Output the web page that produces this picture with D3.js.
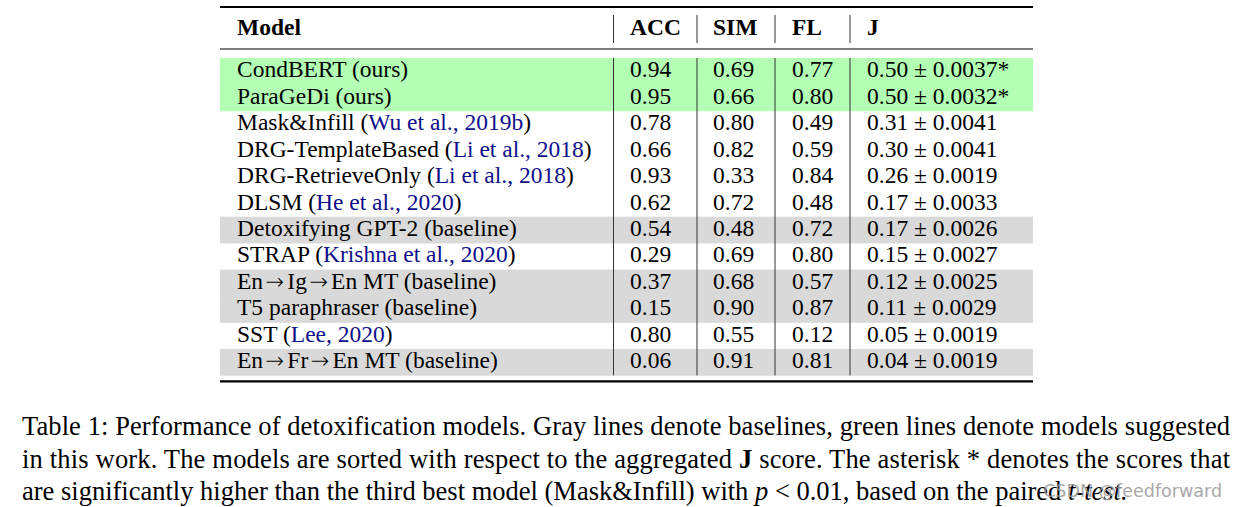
<!DOCTYPE html>
<html><head><meta charset="utf-8">
<script src="https://cdn.jsdelivr.net/npm/d3@7"></script>
<style>html,body{margin:0;padding:0;background:#fff;}svg{display:block;}</style>
</head><body>
<svg id="c" width="1236" height="507"></svg>
<script>
const columns = ["Model", "ACC", "SIM", "FL", "J"];
const models = ["CondBERT", "ParaGeDi", "Mask&Infill", "DRG-TemplateBased", "DRG-RetrieveOnly", "DLSM",
  "Detoxifying GPT-2", "STRAP", "En\u2192Ig\u2192En MT", "T5 paraphraser", "SST", "En\u2192Fr\u2192En MT"];
const suffix = ["(ours)", "(ours)", "", "", "", "", "(baseline)", "", "(baseline)", "(baseline)", "", "(baseline)"];
const cites = ["", "", "Wu et al., 2019b", "Li et al., 2018", "Li et al., 2018", "He et al., 2020",
  "", "Krishna et al., 2020", "", "", "Lee, 2020", ""];
const groups = ["ours", "ours", "", "", "", "", "base", "", "base", "base", "", "base"];
const acc = [0.94, 0.95, 0.78, 0.66, 0.93, 0.62, 0.54, 0.29, 0.37, 0.15, 0.80, 0.06];
const sim = [0.69, 0.66, 0.80, 0.82, 0.33, 0.72, 0.48, 0.69, 0.68, 0.90, 0.55, 0.91];
const fl  = [0.77, 0.80, 0.49, 0.59, 0.84, 0.48, 0.72, 0.80, 0.57, 0.87, 0.12, 0.81];
const jScore = [0.50, 0.50, 0.31, 0.30, 0.26, 0.17, 0.17, 0.15, 0.12, 0.11, 0.05, 0.04];
const jErr = ["0.0037", "0.0032", "0.0041", "0.0041", "0.0019", "0.0033", "0.0026", "0.0027", "0.0025", "0.0029", "0.0019", "0.0019"];
const stars = [true, true, false, false, false, false, false, false, false, false, false, false];

const svg = d3.select("#c");
const serif = "'Liberation Serif','Times New Roman',serif";
const arrowFont = "'DejaVu Sans',sans-serif";
const fs = 23.5;
const tableLeft = 220, tableRight = 1033;

const y = d3.scaleBand().domain(d3.range(models.length)).range([58, 58 + 26.45 * models.length]).paddingInner(0);
const xText = d3.scaleOrdinal().domain(columns).range([237, 630, 713, 792, 867]);
const sepX = [613.5, 697, 775, 850];
const fill = d3.scaleOrdinal().domain(["ours", "base", ""]).range(["#b3ffb3", "#d9d9d9", "none"]);

// row backgrounds
svg.append("g").selectAll("rect").data(d3.range(models.length)).join("rect")
  .attr("x", tableLeft).attr("width", tableRight - tableLeft)
  .attr("y", i => y(i)).attr("height", y.bandwidth() + 0.3)
  .attr("fill", i => fill(groups[i]));

// rules
const tableTop = 7, headRule = 49, bodyBottom = y.range()[1];
svg.append("line").attr("x1", tableLeft).attr("x2", tableRight).attr("y1", tableTop).attr("y2", tableTop).attr("stroke", "#000").attr("stroke-width", 2.2);
svg.append("line").attr("x1", tableLeft).attr("x2", tableRight).attr("y1", headRule).attr("y2", headRule).attr("stroke", "#000").attr("stroke-width", 1.2);
svg.append("line").attr("x1", tableLeft).attr("x2", tableRight).attr("y1", bodyBottom + 6).attr("y2", bodyBottom + 6).attr("stroke", "#000").attr("stroke-width", 2.2);

// vertical separators
sepX.forEach(sx => {
  svg.append("line").attr("x1", sx).attr("x2", sx).attr("y1", 15).attr("y2", 43).attr("stroke", "#333").attr("stroke-width", 1);
  svg.append("line").attr("x1", sx).attr("x2", sx).attr("y1", y.range()[0]).attr("y2", bodyBottom).attr("stroke", "#333").attr("stroke-width", 1);
});

// header
svg.append("g").selectAll("text").data(columns).join("text")
  .attr("x", d => xText(d)).attr("y", 35)
  .attr("font-family", serif).attr("font-size", fs).attr("font-weight", "bold").attr("fill", "#000")
  .text(d => d);

// body
const base = i => y(i) + 19.3;
const rows = svg.append("g").selectAll("g").data(d3.range(models.length)).join("g");
rows.each(function(i) {
  const g = d3.select(this);
  const t = g.append("text").attr("x", xText("Model")).attr("y", base(i))
    .attr("font-family", serif).attr("font-size", fs).attr("fill", "#000");
  let afterArrow = false;
  models[i].split(/(\u2192)/).forEach(part => {
    if (part === "\u2192") {
      t.append("tspan").attr("dx", 2.5).attr("font-family", arrowFont).attr("font-weight", 300).attr("font-size", fs * 0.95).text(part);
      afterArrow = true;
    } else if (part) {
      const s = t.append("tspan").text(part);
      if (afterArrow) s.attr("dx", 3);
      afterArrow = false;
    }
  });
  if (suffix[i]) t.append("tspan").text(" " + suffix[i]);
  if (cites[i]) {
    t.append("tspan").text(" (");
    t.append("tspan").attr("fill", "#0f0f8a").text(cites[i]);
    t.append("tspan").text(")");
  }
  const vals = [["ACC", acc[i].toFixed(2)], ["SIM", sim[i].toFixed(2)], ["FL", fl[i].toFixed(2)],
    ["J", jScore[i].toFixed(2) + " \u00b1 " + jErr[i] + (stars[i] ? "*" : "")]];
  vals.forEach(([c, v]) => {
    g.append("text").attr("x", xText(c)).attr("y", base(i))
      .attr("font-family", serif).attr("font-size", fs).attr("fill", "#000").text(v);
  });
});

// caption
const capFs = 26.5;
const cap = svg.append("g").attr("font-family", serif).attr("font-size", capFs).attr("fill", "#000");
cap.append("text").attr("x", 22).attr("y", 435).attr("textLength", 1208).attr("lengthAdjust", "spacing")
  .text("Table 1: Performance of detoxification models. Gray lines denote baselines, green lines denote models suggested");
const l2 = cap.append("text").attr("x", 22).attr("y", 467.5).attr("textLength", 1208).attr("lengthAdjust", "spacing");
l2.append("tspan").text("in this work. The models are sorted with respect to the aggregated ");
l2.append("tspan").attr("font-weight", "bold").text("J");
l2.append("tspan").text(" score. The asterisk * denotes the scores that");
const l3 = cap.append("text").attr("x", 22).attr("y", 500);
l3.append("tspan").text("are significantly higher than the third best model (Mask&Infill) with ");
l3.append("tspan").attr("font-style", "italic").text("p");
l3.append("tspan").text(" < 0.01, based on the paired ");
l3.append("tspan").attr("font-style", "italic").text("t-test.");

// watermark (overlaps the caption in the reference image too)
svg.append("text").attr("x", 1222).attr("y", 497).attr("text-anchor", "end")
  .attr("font-family", "'DejaVu Sans',sans-serif").attr("font-size", 17.5).attr("fill", "#9a9a9a").attr("opacity", 0.85)
  .text("CSDN @feedforward");
</script>
</body></html>
